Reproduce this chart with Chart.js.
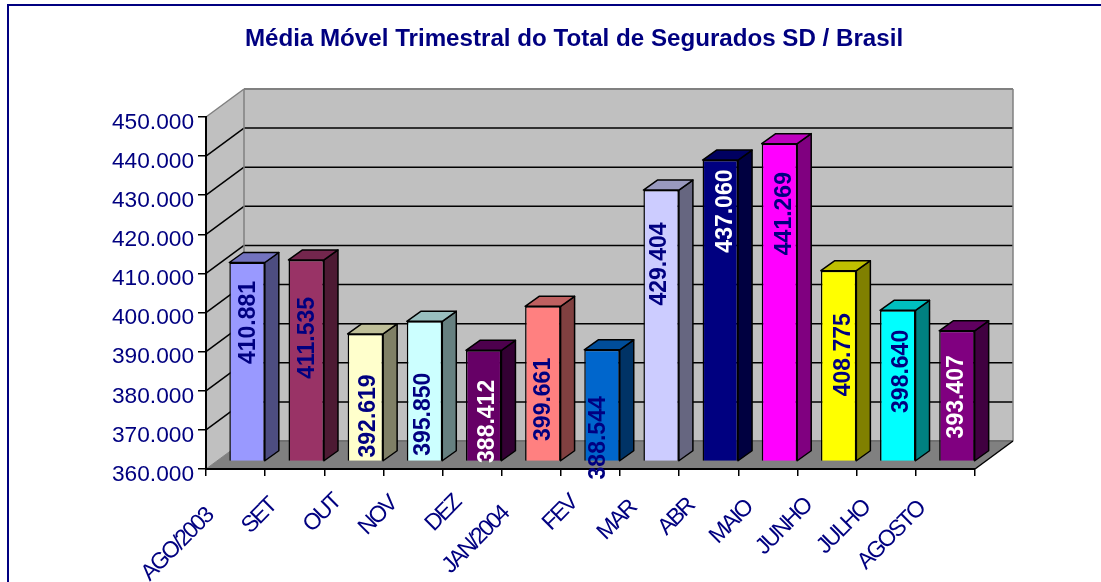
<!DOCTYPE html>
<html lang="pt">
<head>
<meta charset="utf-8">
<title>Média Móvel Trimestral</title>
<style>
html,body{margin:0;padding:0;background:#fff;overflow:hidden}
#wrap{width:1101px;height:582px}
</style>
<script src="https://cdn.jsdelivr.net/npm/chart.js@4"></script>
</head>
<body>
<div id="wrap"><canvas id="c" width="1101" height="582"></canvas></div>
<script>
const categories = ['AGO/2003','SET','OUT','NOV','DEZ','JAN/2004','FEV','MAR','ABR','MAIO','JUNHO','JULHO','AGOSTO'];
const seguradosSD = [410881,411535,392619,395850,388412,399661,388544,429404,437060,441269,408775,398640,393407];
const barColors = ['#9999FF','#993366','#FFFFCC','#CCFFFF','#660066','#FF8080','#0066CC','#CCCCFF','#000080','#FF00FF','#FFFF00','#00FFFF','#800080'];
const labelColors = ['#000080','#000080','#000080','#000080','#FFFFFF','#000080','#000080','#000080','#FFFFFF','#000080','#000080','#000080','#FFFFFF'];
const labelDrop = [60,78,82,93,71,93,88,74,51,70,84,61,66];
const labelNudge = [1,0,2,-2,3,0,-4,-2,4,4,4,3,-1];
const tickShiftX = [-9,-5,0,-3,2,-9,0,0,-1,-2,-2,-3,-7];
const tickShiftY = [7,-3,-7,-5,-6,5,-6,-1,-3,-1,-3,-1,0];
const titleText = 'Média Móvel Trimestral do Total de Segurados SD / Brasil';
const NAVY = '#000080';
const FONT = '"Liberation Sans", Arial, sans-serif';

// 3D projection offsets in pixels
const WALL = {dx:38, dy:28};
const BAR_FRONT = {dx:11.5, dy:7.5};
const BAR_DEPTH = {dx:14, dy:10};

function shade(hex,f){
  const n=parseInt(hex.slice(1),16);
  const c=s=>Math.round(((n>>s)&255)*f);
  return `rgb(${c(16)},${c(8)},${c(0)})`;
}
function poly(ctx,pts,fill,stroke,lw){
  ctx.beginPath();
  pts.forEach((p,i)=>i?ctx.lineTo(p[0],p[1]):ctx.moveTo(p[0],p[1]));
  ctx.closePath();
  if(fill){ctx.fillStyle=fill;ctx.fill();}
  if(stroke){ctx.strokeStyle=stroke;ctx.lineWidth=lw||1;ctx.lineJoin='round';ctx.stroke();}
}
function line(ctx,x0,y0,x1,y1,col,lw){
  ctx.beginPath();ctx.moveTo(x0,y0);ctx.lineTo(x1,y1);ctx.strokeStyle=col;ctx.lineWidth=lw;ctx.stroke();
}

const box3d = {
  id:'box3d',
  afterLayout(chart){
    const t=chart.titleBlock;
    if(t){t.left=47;t.right=1101;}
  },
  beforeDraw(chart){
    const {ctx,chartArea:a,scales:{y}}=chart;
    const dx=WALL.dx,dy=WALL.dy;
    ctx.save();
    ctx.fillStyle='#fff';ctx.fillRect(0,0,chart.width,chart.height);
    ctx.strokeStyle=NAVY;ctx.lineWidth=2;
    ctx.beginPath();ctx.moveTo(8,chart.height+4);ctx.lineTo(8,5);ctx.lineTo(chart.width+4,5);ctx.stroke();
    poly(ctx,[[a.left+dx,a.top-dy],[a.right+dx,a.top-dy],[a.right+dx,a.bottom-dy],[a.left+dx,a.bottom-dy]],'#C0C0C0');
    poly(ctx,[[a.left,a.top],[a.left+dx,a.top-dy],[a.left+dx,a.bottom-dy],[a.left,a.bottom]],'#C0C0C0');
    poly(ctx,[[a.left,a.bottom],[a.left+dx,a.bottom-dy],[a.right+dx,a.bottom-dy],[a.right,a.bottom]],'#808080');
    y.ticks.forEach(t=>{
      if(t.value===y.min||t.value===y.max)return;
      const py=y.getPixelForValue(t.value);
      line(ctx,a.left,py,a.left+dx,py-dy,'#000',1.5);
      line(ctx,a.left+dx,py-dy,a.right+dx,py-dy,'#000',1.5);
    });
    line(ctx,a.left+dx,a.top-dy,a.right+dx,a.top-dy,'#808080',2);
    line(ctx,a.left,a.top,a.left+dx,a.top-dy,'#808080',1.5);
    line(ctx,a.left+dx,a.top-dy,a.left+dx,a.bottom-dy,'#808080',1.5);
    line(ctx,a.right+dx,a.top-dy,a.right+dx,a.bottom-dy,'#808080',1.5);
    line(ctx,a.left,a.bottom,a.left+dx,a.bottom-dy,'#808080',1);
    line(ctx,a.left+dx,a.bottom-dy,a.right+dx,a.bottom-dy,'#707070',2);
    line(ctx,a.right,a.bottom,a.right+dx,a.bottom-dy,'#000',1.5);
    ctx.restore();
  },
  beforeDatasetDraw(chart,args){
    const ctx=chart.ctx;
    ctx.save();
    ctx.translate(BAR_FRONT.dx,-BAR_FRONT.dy);
    const d=BAR_DEPTH;
    args.meta.data.forEach((bar,i)=>{
      const p=bar.getProps(['x','y','base','width'],true);
      const l=p.x-p.width/2,r=p.x+p.width/2;
      poly(ctx,[[r,p.y],[r+d.dx,p.y-d.dy],[r+d.dx,p.base-d.dy],[r,p.base]],shade(barColors[i],.5),'#000',1.5);
      poly(ctx,[[l,p.y],[l+d.dx,p.y-d.dy],[r+d.dx,p.y-d.dy],[r,p.y]],shade(barColors[i],.75),'#000',1.5);
    });
  },
  afterDatasetDraw(chart){ chart.ctx.restore(); },
  afterDatasetsDraw(chart){
    const ctx=chart.ctx;
    const meta=chart.getDatasetMeta(0);
    meta.data.forEach((bar,i)=>{
      const p=bar.getProps(['x','y'],true);
      ctx.save();
      ctx.translate(p.x+BAR_FRONT.dx+labelNudge[i],p.y-BAR_FRONT.dy+labelDrop[i]);
      ctx.rotate(-Math.PI/2);
      ctx.font='bold 23px '+FONT;
      ctx.fillStyle=labelColors[i];
      ctx.textAlign='center';
      ctx.textBaseline='middle';
      ctx.fillText(seguradosSD[i].toLocaleString('de-DE'),0,1);
      ctx.restore();
    });
  }
};

new Chart(document.getElementById('c'),{
  type:'bar',
  data:{labels:categories,datasets:[{
    data:seguradosSD,
    base:360000,
    backgroundColor:barColors,
    borderColor:'#000',
    borderWidth:1.5,
    barPercentage:0.6,
    categoryPercentage:1,
    clip:false
  }]},
  plugins:[box3d],
  options:{
    responsive:false,
    animation:false,
    layout:{padding:{left:0,right:126,top:0,bottom:0}},
    plugins:{
      legend:{display:false},
      tooltip:{enabled:false},
      title:{display:true,text:titleText,color:NAVY,
        font:{family:FONT,size:24.15,weight:'bold',lineHeight:1.2},
        padding:{top:24.5,bottom:63.5}}
    },
    scales:{
      x:{
        offset:true,
        grid:{drawOnChartArea:false,drawTicks:true,tickLength:7,color:'#000',lineWidth:1.5},
        border:{display:true,color:'#000',width:2},
        ticks:{autoSkip:false,maxRotation:45,minRotation:45,color:NAVY,labelOffset:-17,padding:20,
          font:{family:FONT,size:23}},
        afterFit(s){
          s.height=113;s.paddingLeft=0;s.paddingRight=0;
          if(!s._ls){
            s._ls=true;
            const base=s.drawLabels;
            s.drawLabels=function(area){
              const items=this.getLabelItems(area);
              if(!items._shifted){
                items.forEach((it,i)=>{
                  const t=it.options.translation;
                  it.options.translation=[t[0]+tickShiftX[i],t[1]+tickShiftY[i]];
                });
                items._shifted=true;
              }
              const c=this.ctx;c.save();c.letterSpacing='-2.2px';
              base.call(this,area);c.restore();
            };
          }
        }
      },
      y:{
        min:360000,max:450000,
        grid:{drawOnChartArea:false,drawTicks:true,tickLength:8,color:'#000',lineWidth:1.5},
        border:{display:true,color:'#000',width:2},
        ticks:{stepSize:10000,color:NAVY,padding:4,labelOffset:5.5,font:{family:FONT,size:22.7},
          callback:v=>Number(v).toLocaleString('de-DE',{minimumFractionDigits:0})},
        afterFit(s){s.width=206;s.paddingTop=0;s.paddingBottom=0;}
      }
    }
  }
});
</script>
</body>
</html>
